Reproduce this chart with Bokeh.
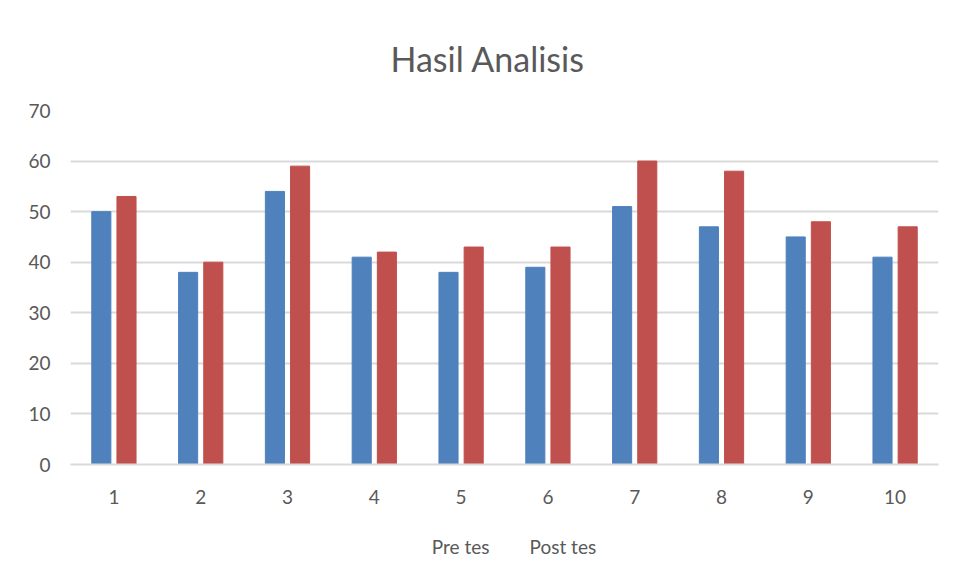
from bokeh.plotting import figure
from bokeh.layouts import column
from bokeh.models import ColumnDataSource, FactorRange, Range1d, Legend, LegendItem, Title, SingleIntervalTicker
from bokeh.transform import dodge
from bokeh.embed import file_html
from bokeh.resources import INLINE

categories = ["1", "2", "3", "4", "5", "6", "7", "8", "9", "10"]
pre_tes = [50, 38, 54, 41, 38, 39, 51, 47, 45, 41]
post_tes = [53, 40, 59, 42, 43, 43, 60, 58, 48, 47]
series_names = ["Pre tes", "Post tes"]
title_text = "Hasil Analisis"

FONT = "Lato"
TXT = "#595959"
GRID = "#D9D9D9"
BLUE = "#4F81BD"
RED = "#C0504D"

src = ColumnDataSource(dict(cat=categories, pre=pre_tes, post=post_tes))

p = figure(frame_width=868, frame_height=354, x_range=FactorRange(*categories, range_padding=0),
           y_range=Range1d(0, 70), output_backend="svg", toolbar_location=None,
           min_border_left=70, min_border_right=12, min_border_top=110, min_border_bottom=50)
t = Title(text=title_text, align="left", text_font=FONT, text_font_size="34px",
          text_color=TXT, text_font_style="normal", standoff=64, offset=320)
p.add_layout(t, "above")

p.vbar(x=dodge("cat", -0.145, range=p.x_range), top="pre", width=0.22, source=src,
       fill_color=BLUE, line_color=BLUE)
p.vbar(x=dodge("cat", 0.145, range=p.x_range), top="post", width=0.22, source=src,
       fill_color=RED, line_color=RED)

p.yaxis.ticker = SingleIntervalTicker(interval=10)
p.yaxis.axis_line_color = None
p.yaxis.major_tick_line_color = None
p.yaxis.minor_tick_line_color = None
p.yaxis.major_label_text_font = FONT
p.yaxis.major_label_text_font_size = "19px"
p.yaxis.major_label_text_color = TXT
p.yaxis.major_label_standoff = 14

p.xaxis.axis_line_color = GRID
p.xaxis.axis_line_width = 2
p.xaxis.major_tick_line_color = None
p.xaxis.minor_tick_line_color = None
p.xaxis.major_label_text_font = FONT
p.xaxis.major_label_text_font_size = "19px"
p.xaxis.major_label_text_color = TXT
p.xaxis.major_label_standoff = 19

p.xgrid.grid_line_color = None
p.ygrid.grid_line_color = GRID
p.ygrid.grid_line_width = 2
p.outline_line_color = None

# legend strip below the chart
p2 = figure(width=950, height=64, x_range=Range1d(0, 1), y_range=Range1d(0, 1),
            output_backend="svg", toolbar_location=None,
            x_axis_location=None, y_axis_location=None, min_border=0)
p2.grid.visible = False
p2.outline_line_color = None
l1 = p2.vbar(x=[], top=[], width=0.1, fill_color=BLUE, line_color=BLUE)
l2 = p2.vbar(x=[], top=[], width=0.1, fill_color=RED, line_color=RED)

legend = Legend(items=[LegendItem(label=series_names[0], renderers=[l1]),
                       LegendItem(label=series_names[1], renderers=[l2])],
                orientation="horizontal", location="center",
                label_text_font=FONT, label_text_font_size="19px", label_text_color=TXT,
                glyph_width=14, glyph_height=14, label_standoff=6, spacing=20,
                border_line_color=None, background_fill_alpha=0, margin=0, padding=0)
p2.add_layout(legend, "center")

layout = column(p, p2, spacing=0)
open("out.html", "w").write(file_html(layout, INLINE))
